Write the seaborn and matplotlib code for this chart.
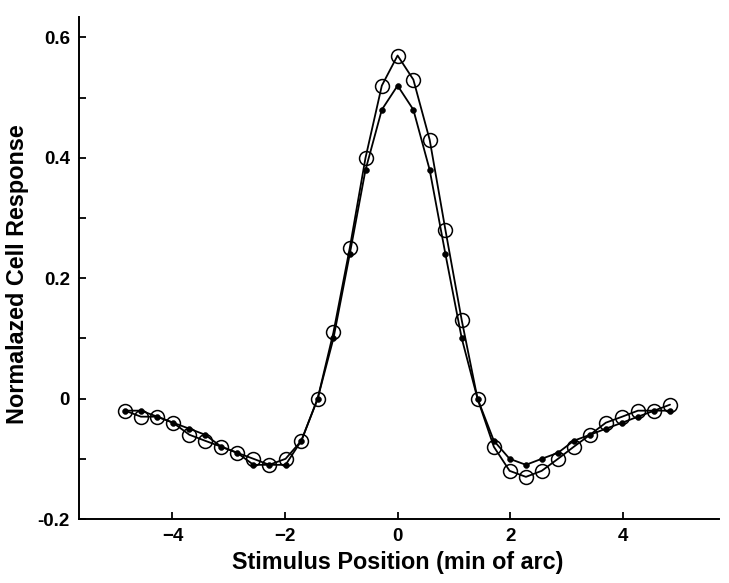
import numpy as np
import pandas as pd
import matplotlib
matplotlib.use("Agg")
import matplotlib.pyplot as plt
import seaborn as sns
from matplotlib.ticker import FixedLocator

positions = [-4.84, -4.56, -4.27, -3.99, -3.70, -3.42, -3.13, -2.85, -2.56, -2.28, -1.99, -1.71,
             -1.42, -1.14, -0.85, -0.57, -0.28, 0.00, 0.28, 0.57, 0.85, 1.14, 1.42,
             1.71, 1.99, 2.28, 2.56, 2.85, 3.13, 3.42, 3.70, 3.99, 4.27, 4.56, 4.84]
open_resp = [-0.02, -0.03, -0.03, -0.04, -0.06, -0.07, -0.08, -0.09, -0.10, -0.11, -0.10, -0.07,
             0.00, 0.11, 0.25, 0.40, 0.52, 0.57, 0.53, 0.43, 0.28, 0.13, 0.00,
             -0.08, -0.12, -0.13, -0.12, -0.10, -0.08, -0.06, -0.04, -0.03, -0.02, -0.02, -0.01]
filled_resp = [-0.02, -0.02, -0.03, -0.04, -0.05, -0.06, -0.08, -0.09, -0.11, -0.11, -0.11, -0.07,
               0.00, 0.10, 0.24, 0.38, 0.48, 0.52, 0.48, 0.38, 0.24, 0.10, 0.00,
               -0.07, -0.10, -0.11, -0.10, -0.09, -0.07, -0.06, -0.05, -0.04, -0.03, -0.02, -0.02]
x_ticks = [-4, -2, 0, 2, 4]
x_tick_labels = ["\u22124", "\u22122", "0", "2", "4"]
y_ticks = [-0.2, 0, 0.2, 0.4, 0.6]
y_tick_labels = ["-0.2", "0", "0.2", "0.4", "0.6"]
y_minor = [-0.1, 0.1, 0.3, 0.5]

sns.set_theme(style="ticks")
plt.rcParams['font.family'] = ['Liberation Sans', 'DejaVu Sans']
plt.rcParams['font.weight'] = 'bold'
plt.rcParams['text.color'] = 'black'
plt.rcParams['axes.labelcolor'] = 'black'
plt.rcParams['xtick.color'] = 'black'
plt.rcParams['ytick.color'] = 'black'

df_open = pd.DataFrame({"x": positions, "y": open_resp})
df_fill = pd.DataFrame({"x": positions, "y": filled_resp})

fig = plt.figure(figsize=(7.29, 5.83), dpi=100)
# axes: left spine at 79 px, bottom at 519 px, top at 17 px, right end at 719 px
ax = fig.add_axes([79 / 729, 1 - 519 / 583, 640 / 729, 502 / 583])

sns.lineplot(data=df_open, x="x", y="y", ax=ax, color="black", linewidth=1.3, sort=False,
             marker="o", markersize=10, markerfacecolor="none", markeredgecolor="black",
             markeredgewidth=1.1)
sns.lineplot(data=df_fill, x="x", y="y", ax=ax, color="black", linewidth=1.3, sort=False,
             marker="o", markersize=4.2, markerfacecolor="black", markeredgecolor="black",
             markeredgewidth=0.4)

ax.set_xlim(-5.66, 5.71)
ax.set_ylim(-0.2, 0.634)
ax.set_xticks(x_ticks)
ax.set_xticklabels(x_tick_labels)
ax.set_yticks(y_ticks)
ax.set_yticklabels(y_tick_labels)
ax.yaxis.set_minor_locator(FixedLocator(y_minor))

for s in ["top", "right"]:
    ax.spines[s].set_visible(False)
for s in ["left", "bottom"]:
    ax.spines[s].set_linewidth(1.4)
    ax.spines[s].set_color("black")

ax.tick_params(axis="both", which="major", direction="in", length=5, width=1.3,
               labelsize=13.5, colors="black", labelcolor="black", pad=6.5)
ax.tick_params(axis="y", which="minor", direction="in", length=5, width=1.3, colors="black")
for lab in ax.get_xticklabels() + ax.get_yticklabels():
    lab.set_fontweight("bold")
    lab.set_color("black")

ax.set_xlabel("Stimulus Position (min of arc)", fontsize=16.8, fontweight="bold",
              va="center", color="black")
ax.set_ylabel("Normalazed Cell Response", fontsize=16.8, fontweight="bold",
              va="center", color="black")
ax.xaxis.set_label_coords((398 - 79) / 640, -(563 - 519) / 502)
ax.yaxis.set_label_coords((17.5 - 79) / 640, (519 - 274) / 502)

fig.savefig("out.png", dpi=100)
